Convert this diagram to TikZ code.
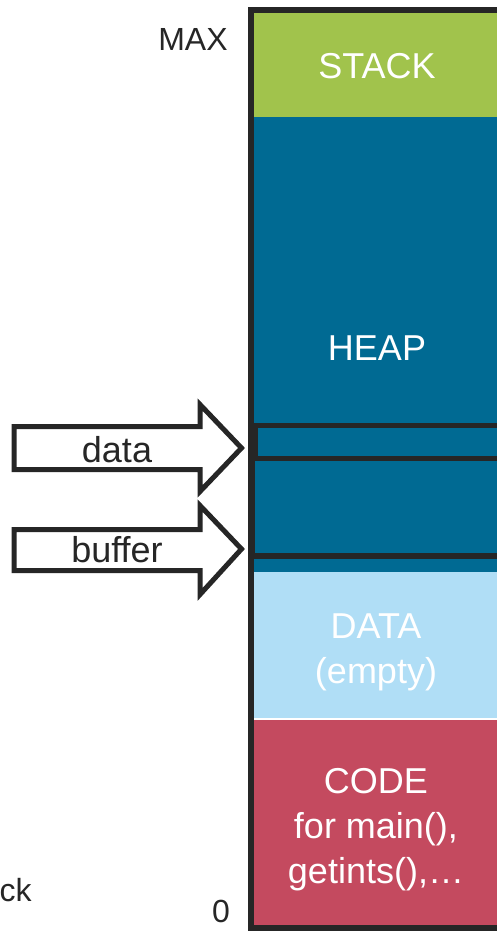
\documentclass[tikz,border=0pt]{standalone}
\usepackage{fontspec}
\setmainfont{Liberation Sans}
\definecolor{stackgreen}{HTML}{A1C34C}
\definecolor{heapblue}{HTML}{006A93}
\definecolor{datablue}{HTML}{B0DEF6}
\definecolor{codered}{HTML}{C44A5F}
\definecolor{edge}{HTML}{262626}
\begin{document}
\begin{tikzpicture}[x=1pt,y=-1pt,
  seglabel/.style={text=white,font=\fontsize{36}{45}\selectfont,align=center,anchor=base},
  sidelabel/.style={text=edge,font=\fontsize{32}{38}\selectfont,anchor=base},
  ptrlabel/.style={text=edge,font=\fontsize{36}{40}\selectfont,anchor=base},
  ptrarrow/.style={draw=edge,line width=5,fill=white,line join=miter},
  region/.style={draw=edge,line width=5.5}]
\useasboundingbox (0,0) rectangle (497,932);
\clip (0,0) rectangle (497,932);
\fill[white] (0,0) rectangle (497,932);

% memory segments
\fill[stackgreen] (250,10) rectangle (510,117);
\fill[heapblue]   (250,117) rectangle (510,572);
\fill[datablue]   (250,572) rectangle (510,718);
\fill[codered]    (250,720) rectangle (510,928);

% regions pointed to inside the heap
\draw[region] (255,425.5) rectangle (512,458.5);
\draw[region] (252,458.5) rectangle (512,556);

% outline of the address space
\draw[draw=edge,line width=5.5] (251,10) rectangle (512,928);

% segment names (multi-line nodes are placed by their last baseline)
\node[seglabel] (stack) at (377,78) {STACK};
\node[seglabel] (heap)  at (377,360) {HEAP};
\node[seglabel] (data)  at (376,683) {DATA\\(empty)};
\node[seglabel] (code)  at (376,883) {CODE\\for main(),\\getints(),…};

% address labels
\node[sidelabel] (max)  at (193,50) {MAX};
\node[sidelabel] (zero) at (221,922) {0};
\node[sidelabel,anchor=base west] (stk) at (-4,901) {ck};

% pointers into the heap
\draw[ptrarrow] (14,426.5) -- (200,426.5) -- (200,404.5) -- (241.5,448)
  -- (200,491.5) -- (200,469.5) -- (14,469.5) -- cycle;
\node[ptrlabel] (pdata) at (117,462) {data};
\draw[ptrarrow] (14,529.5) -- (200,529.5) -- (200,505.5) -- (241.5,549)
  -- (200,594.5) -- (200,570.5) -- (14,570.5) -- cycle;
\node[ptrlabel] (pbuf) at (117,562) {buffer};
\end{tikzpicture}
\end{document}
